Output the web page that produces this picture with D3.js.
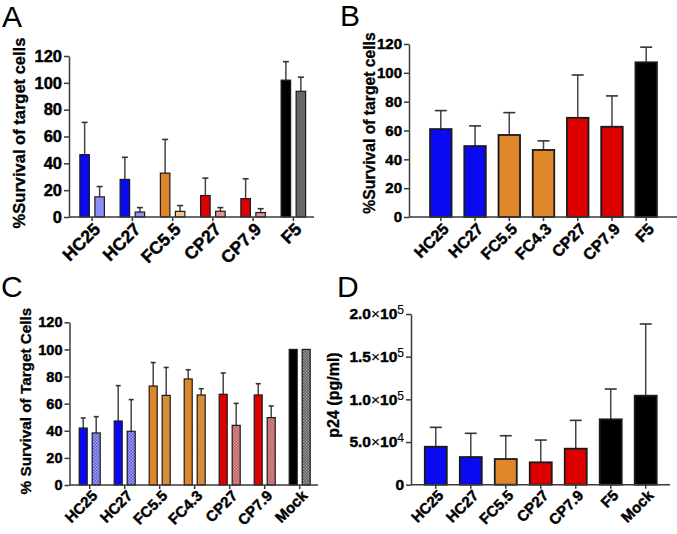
<!DOCTYPE html>
<html><head><meta charset="utf-8">
<script src="https://cdn.jsdelivr.net/npm/d3@7"></script>
<style>
body{margin:0;background:#fff}
svg{display:block}
text{font-family:"Liberation Sans",Arial,Helvetica,sans-serif;fill:#000}
</style>
</head><body><svg id="c" width="677" height="534"></svg>
<script>
// ---------- Panel A ----------
const catsA = ["HC25","HC27","FC5.5","CP27","CP7.9","F5"];
const famA  = ["blue","blue","orange","red","red","black"];
const a1    = [46.5, 28, 32.7, 16, 13.7, 102];
const a1Err = [70.5, 44.5, 57.8, 29, 28.5, 115.8];
const a2    = [15, 3.7, 4.2, 4.3, 3.3, 93.7];
const a2Err = [22.7, 7, 8.5, 7, 6.2, 104.2];
// ---------- Panel B ----------
const catsB = ["HC25","HC27","FC5.5","FC4.3","CP27","CP7.9","F5"];
const famB  = ["blue","blue","orange","orange","red","red","black"];
const b1    = [61, 49.2, 56.9, 46.5, 68.8, 62.6, 107.3];
const b1Err = [73.8, 63.2, 72.4, 52.8, 98.5, 84, 117.8];
// ---------- Panel C ----------
const catsC = ["HC25","HC27","FC5.5","FC4.3","CP27","CP7.9","Mock"];
const famC  = ["blue","blue","orange","orange","red","red","black"];
const c1    = [42, 47.2, 73, 78.2, 66.9, 66.4, 100];
const c1Err = [49.4, 73.3, 90.3, 85, 82.6, 74.7, null];
const c2    = [38.4, 39.6, 66.1, 66.4, 44, 49.7, 100];
const c2Err = [50.4, 63, 86.7, 71, 60.2, 58.3, null];
// ---------- Panel D ----------
const catsD = ["HC25","HC27","FC5.5","CP27","CP7.9","F5","Mock"];
const famD  = ["blue","blue","orange","red","red","black","black"];
const d1    = [44500, 32400, 30100, 26200, 42200, 76600, 104300];
const d1Err = [67200, 60200, 57400, 52300, 75400, 112100, 188300];
// ---------- Ticks ----------
const ticksPct = [0,20,40,60,80,100,120];
const ticksD = [0,50000,100000,150000,200000];
const tickLabelsD = [["0","",""],["5.0","×10","4"],["1.0","×10","5"],["1.5","×10","5"],["2.0","×10","5"]];

// colours
const solid = {blue:"#0a0af0", orange:"#e0862a", red:"#dc0000", black:"#000000"};
const lightA = {blue:"#8f8ffc", orange:"#f0c68a", red:"#e69292", black:"#666666"};
const hatchBase = {blue:"#5a5ad8", orange:"#c98030", red:"#b85c60", black:"#555555"};
const hatchLight = {blue:"#a4a4f4", orange:"#e59a48", red:"#e09298", black:"#a0a0a0"};

const svg = d3.select("#c");
const defs = svg.append("defs");
Object.keys(hatchBase).forEach(k=>{
  const p = defs.append("pattern").attr("id","h_"+k).attr("patternUnits","userSpaceOnUse")
    .attr("width",3).attr("height",3);
  p.append("rect").attr("width",3).attr("height",3).attr("fill",hatchBase[k]);
  p.append("rect").attr("width",1.5).attr("height",1.5).attr("fill",hatchLight[k]);
  p.append("rect").attr("x",1.5).attr("y",1.5).attr("width",1.5).attr("height",1.5).attr("fill",hatchLight[k]);
});

function bold(sel){
  return sel.attr("font-weight","bold").attr("stroke","#000").attr("stroke-width",0.45)
    .attr("font-family",'"Liberation Sans",Arial,sans-serif').attr("fill","#000");
}

function panel(o){
  const g = svg.append("g");
  const x = d3.scaleBand().domain(o.cats).range(o.xr);
  const y = d3.scaleLinear().domain([0,o.ymax]).range([o.y0,o.yTop]);
  const axisCol = "#3a3a3a";
  o.series.forEach(s=>{
    const data = o.cats.map((c,i)=>({c,v:s.values[i],e:s.errs[i],f:o.fam[i]}));
    const cx = d => x(d.c)+x.bandwidth()/2+s.off;
    const eb = data.filter(d=>d.e!=null);
    g.selectAll(null).data(eb).enter().append("line")
      .attr("x1",cx).attr("x2",cx).attr("y1",d=>y(d.v)).attr("y2",d=>y(d.e))
      .attr("stroke","#444").attr("stroke-width",1.5);
    g.selectAll(null).data(eb).enter().append("line")
      .attr("x1",d=>cx(d)-o.capW/2).attr("x2",d=>cx(d)+o.capW/2).attr("y1",d=>y(d.e)).attr("y2",d=>y(d.e))
      .attr("stroke","#333").attr("stroke-width",1.6);
    g.selectAll(null).data(data).enter().append("rect")
      .attr("x",d=>cx(d)-o.barW/2).attr("width",o.barW)
      .attr("y",d=>y(d.v)).attr("height",d=>o.y0-y(d.v))
      .attr("fill",d=>s.fill(d.f)).attr("stroke","#1a1a1a").attr("stroke-width",o.bsw);
  });
  const ya = g.append("g").attr("transform",`translate(${o.ax},0)`)
    .call(d3.axisLeft(y).tickValues(o.ticks).tickSize(5).tickSizeOuter(0).tickPadding(2)
      .tickFormat(o.fmt || (d=>d)));
  ya.select(".domain").attr("stroke",axisCol).attr("stroke-width",1.5);
  ya.selectAll(".tick line").attr("stroke",axisCol).attr("stroke-width",1.5);
  bold(ya.selectAll(".tick text")).attr("font-size",o.tfs);
  if(o.labs){
    ya.selectAll(".tick text").each(function(d,i){
      const t = d3.select(this); t.text(null);
      t.append("tspan").text(o.labs[i][0]);
      if(o.labs[i][1]){
        t.append("tspan").attr("font-weight","normal").attr("stroke-width",0.15).text("×");
        t.append("tspan").text("10");
        t.append("tspan").attr("dy","-0.42em").attr("font-size",o.tfs*0.78).attr("font-weight","normal").attr("stroke-width",0.15).text(o.labs[i][2]);
      }
    });
  }
  const xa = g.append("g").attr("transform",`translate(0,${o.y0})`)
    .call(d3.axisBottom(x).tickSize(4).tickSizeOuter(0).tickPadding(2));
  xa.select(".domain").remove();
  xa.append("line").attr("x1",o.ax).attr("x2",o.axEnd).attr("stroke",axisCol).attr("stroke-width",1.5);
  xa.selectAll(".tick line").attr("stroke",axisCol).attr("stroke-width",1.5);
  bold(xa.selectAll(".tick text")).attr("font-size",o.xfs)
    .attr("text-anchor","end").attr("dy","0.35em")
    .attr("transform",`translate(${o.lx},${o.ly}) rotate(-45)`).attr("y",0).attr("x",0);
  bold(g.append("text").attr("transform",`translate(${o.tx},${o.ty}) rotate(-90)`)
    .attr("text-anchor","middle").attr("dy","0.35em").attr("font-size",o.tsz))
    .attr("stroke-width",0.3).text(o.title);
  g.append("text").attr("x",o.lxp).attr("y",o.lyp).attr("font-size",30).text(o.letter);
}

panel({cats:catsA, fam:famA, xr:[72,313.5], ymax:120, y0:217, yTop:56, ax:69, axEnd:314,
  ticks:ticksPct, barW:9.5, capW:6, bsw:1.2, tfs:16.5, xfs:17.5, lx:5, ly:9,
  series:[{values:a1, errs:a1Err, off:-7.5, fill:f=>solid[f]},
          {values:a2, errs:a2Err, off:7.5, fill:f=>lightA[f]}],
  title:"%Survival of target cells", tx:19, ty:133, tsz:16.5, letter:"A", lxp:2, lyp:27});

panel({cats:catsB, fam:famB, xr:[423.7,663.3], ymax:120, y0:217, yTop:44, ax:409, axEnd:677,
  ticks:ticksPct, barW:21.5, capW:12, bsw:1.8, tfs:15, xfs:16, lx:5, ly:9,
  series:[{values:b1, errs:b1Err, off:0, fill:f=>solid[f]}],
  title:"%Survival of target cells", tx:369, ty:123, tsz:15.7, letter:"B", lxp:340, lyp:26});

panel({cats:catsC, fam:famC, xr:[72.2,317.2], ymax:120, y0:485, yTop:322.3, ax:69.5, axEnd:318,
  ticks:ticksPct, barW:8, capW:5, bsw:1.2, tfs:14.5, xfs:15, lx:5, ly:8,
  series:[{values:c1, errs:c1Err, off:-6.5, fill:f=>solid[f]},
          {values:c2, errs:c2Err, off:6.5, fill:f=>`url(#h_${f})`}],
  title:"% Survival of Target Cells", tx:26, ty:401, tsz:15.3, letter:"C", lxp:1, lyp:297});

panel({cats:catsD, fam:famD, xr:[418.3,663.2], ymax:200000, y0:484.7, yTop:314, ax:411, axEnd:670,
  ticks:ticksD, labs:tickLabelsD, barW:22, capW:12, bsw:1.8, tfs:15.5, xfs:15, lx:5, ly:8,
  series:[{values:d1, errs:d1Err, off:0, fill:f=>solid[f]}],
  title:"p24 (pg/ml)", tx:333, ty:395, tsz:16, letter:"D", lxp:337, lyp:297});
</script>
</body></html>
